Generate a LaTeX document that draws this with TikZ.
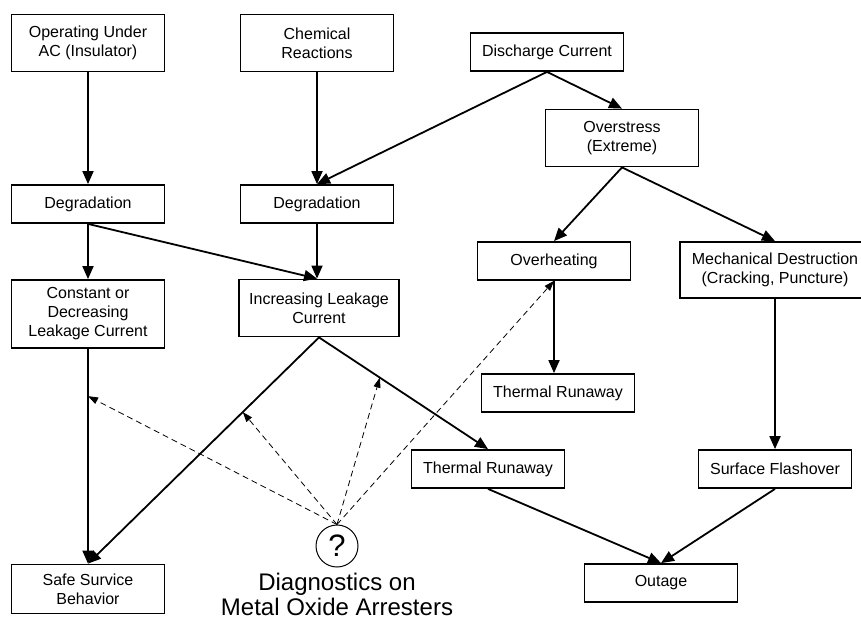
\documentclass[tikz,border=0pt]{standalone}
\usepackage{fontspec}
\setmainfont{Liberation Sans}
\usetikzlibrary{arrows.meta}
\begin{document}
\begin{tikzpicture}[x=1pt,y=-1pt,
  every node/.style={font=\fontsize{16}{19}\selectfont},
  box/.style={draw, line width=1.8pt, align=center, minimum width=153, minimum height=38, inner sep=2pt},
  arr/.style={line width=1.8pt, -{Triangle[length=13pt,width=11pt]}},
  darr/.style={line width=0.8pt, dash pattern=on 6pt off 4pt, -{Triangle[length=10pt,width=7pt]}}]
  \useasboundingbox (0,0) rectangle (861,621);
  % causes
  \node[box, minimum height=57] (opac) at (88,43) {Operating Under\\AC (Insulator)};
  \node[box, minimum height=57] (chem) at (317,43) {Chemical\\Reactions};
  \node[box] (dis) at (547,52) {Discharge Current};
  \node[box, minimum height=57] (ovs) at (622,138) {Overstress\\(Extreme)};
  % effects
  \node[box] (deg1) at (88,204) {Degradation};
  \node[box] (deg2) at (317,204) {Degradation};
  \node[box] (oh) at (554,261) {Overheating};
  \node[box, minimum width=190, minimum height=56] (mech) at (775,270) {Mechanical Destruction\\(Cracking, Puncture)};
  \node[box, minimum height=68] (cl) at (88,314) {Constant or\\Decreasing\\Leakage Current};
  \node[box, minimum width=160, minimum height=57] (il) at (319,308) {Increasing Leakage\\Current};
  \node[box] (tr1) at (558,393) {Thermal Runaway};
  \node[box] (tr2) at (488,469) {Thermal Runaway};
  \node[box] (sf) at (775,469) {Surface Flashover};
  \node[box, minimum height=49] (safe) at (88,589) {Safe Survice\\Behavior};
  \node[box] (out) at (661,583) {Outage};
  % diagnostics
  \node[draw, circle, line width=1pt, minimum size=42, inner sep=0, font=\fontsize{31}{31}\selectfont] (q) at (337,546) {?};
  \node[anchor=north, inner sep=0, align=center, font=\fontsize{24}{25}\selectfont] (diag) at (337,573) {Diagnostics on\\Metal Oxide Arresters};
  % solid arrows
  \draw[arr] (opac) -- (deg1);
  \draw[arr] (chem) -- (deg2);
  \draw[arr] (dis.south) -- (deg2.north);
  \draw[arr] (dis.south) -- (ovs.north);
  \draw[arr] (deg1) -- (cl);
  \draw[arr] (deg1.south) -- (deg2.south |- il.north);
  \draw[arr] (deg2.south) -- (deg2.south |- il.north);
  \draw[arr] (ovs.south) -- (oh.north);
  \draw[arr] (ovs.south) -- (mech.north);
  \draw[arr] (oh.south) -- (oh.south |- tr1.north);
  \draw[arr] (mech.south) -- (sf.north);
  \draw[arr] (cl.south) -- (safe.north);
  \draw[arr] (il.south) -- (safe.north);
  \draw[arr] (il.south) -- (tr2.north);
  \draw[arr] (tr2.south) -- (out.north);
  \draw[arr] (sf.south) -- (out.north);
  % dashed arrows
  \path (cl.south) -- (safe.north) coordinate[pos=0.22] (m1);
  \path (il.south) -- (safe.north) coordinate[pos=0.33] (m2);
  \path (il.south) -- (tr2.north) coordinate[pos=0.36] (m3);
  \draw[darr] (q.north) -- (m1);
  \draw[darr] (q.north) -- (m2);
  \draw[darr] (q.north) -- (m3);
  \draw[darr] (q.north) -- (oh.south);
\end{tikzpicture}
\end{document}
